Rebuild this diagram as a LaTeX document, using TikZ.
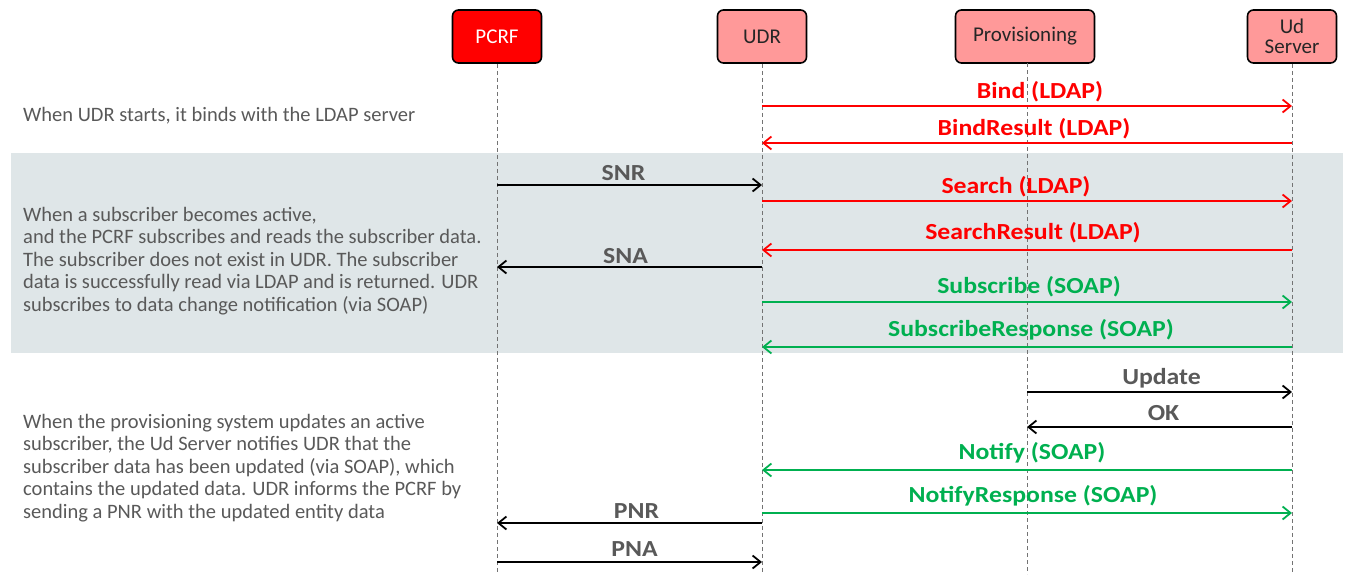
\documentclass[tikz,border=0pt]{standalone}
\usepackage{fontspec}
\setmainfont{Carlito}
\newfontfamily\msgfont[FakeStretch=1.12]{Carlito}
\usetikzlibrary{arrows.meta}
\definecolor{txtgray}{HTML}{595959}
\definecolor{boxpink}{HTML}{FF9999}
\definecolor{msgred}{HTML}{FF0000}
\definecolor{msggreen}{HTML}{00B050}
\definecolor{bandfill}{HTML}{DFE6E8}
\tikzset{
  actor/.style={draw=black, line width=1.6pt, rounded corners=6pt, fill=boxpink,
    minimum height=53pt, minimum width=89pt, align=center, inner sep=2pt,
    font=\fontsize{21}{20}\selectfont, text=black!85},
  lifeline/.style={draw=black!55, line width=0.8pt, dash pattern=on 4pt off 3pt},
  msg/.style={line width=1.8pt, -{Straight Barb[length=8pt,width=13pt]}},
  blackmsg/.style={msg, draw=black},
  redmsg/.style={msg, draw=msgred},
  greenmsg/.style={msg, draw=msggreen},
  lbl/.style={font=\msgfont\bfseries\fontsize{23}{26}\selectfont, inner sep=0pt},
  desc/.style={font=\fontsize{20.5}{22.5}\selectfont, text=txtgray, align=left,
    inner sep=0pt, anchor=west},
}
% message from lifeline #2 to lifeline #3 at height #4, label raised by #5, shifted by #6
\newcommand\seqmsg[8]{%
  \draw[#1] (#2 |- 0,#4) -- (#3 |- 0,#4)
    node[lbl, midway, yshift=#5pt, xshift=#6pt, text=#7] {#8};}
\begin{document}
\begin{tikzpicture}[x=1pt,y=-1pt]
\useasboundingbox (0,0) rectangle (1348,574);
% shaded section behind the subscription phase
\fill[bandfill] (11,153) rectangle (1343,353);

% participants
\node[actor, fill=msgred, text=white] (pcrf) at (497,36.5) {PCRF};
\node[actor] (udr) at (762,36.5) {UDR};
\node[actor, minimum width=139pt] (prov) at (1025,36.5) {Provisioning};
\node[actor] (uds) at (1292,36.5) {Ud\\Server};

% lifelines
\coordinate (pcrfend) at (497,574);
\coordinate (udrend) at (762,574);
\coordinate (provtop) at (1027,63);
\coordinate (provend) at (1027,574);
\coordinate (udsend) at (1292,574);
\draw[lifeline] (pcrf.south) -- (pcrfend);
\draw[lifeline] (udr.south) -- (udrend);
\draw[lifeline] (provtop) -- (provend);
\draw[lifeline] (uds.south) -- (udsend);

% phase descriptions
\node[desc] (d1) at (23,115.5) {When UDR starts, it binds with the LDAP server};
\node[desc] (d2) at (23,261) {When a subscriber becomes active,\\
and the PCRF subscribes and reads the subscriber data.\\
The subscriber does not exist in UDR. The subscriber\\
data is successfully read via LDAP and is returned. UDR\\
subscribes to data change notification  (via SOAP)};
\node[desc] (d3) at (23,468) {When the provisioning system updates an active\\
subscriber, the Ud Server notifies UDR that the\\
subscriber data has been updated (via SOAP), which\\
contains the updated data. UDR informs the PCRF by\\
sending a PNR with the updated entity data};

% bind
\seqmsg{redmsg}{udr}{uds}{106}{14.5}{13}{msgred}{Bind (LDAP)}
\seqmsg{redmsg}{uds}{udr}{143}{14.5}{7}{msgred}{BindResult (LDAP)}

% subscription
\seqmsg{blackmsg}{pcrf}{udr}{185}{12}{-6}{txtgray}{SNR}
\seqmsg{redmsg}{udr}{uds}{201}{14}{-11}{msgred}{Search (LDAP)}
\seqmsg{redmsg}{uds}{udr}{250}{17}{6}{msgred}{SearchResult (LDAP)}
\seqmsg{blackmsg}{udr}{pcrf}{267}{11}{-4}{txtgray}{SNA}
\seqmsg{greenmsg}{udr}{uds}{302}{15}{2}{msggreen}{Subscribe (SOAP)}
\seqmsg{greenmsg}{uds}{udr}{347}{17}{4}{msggreen}{SubscribeResponse (SOAP)}

% update and notification
\seqmsg{blackmsg}{provend}{uds}{392}{14}{2}{txtgray}{Update}
\seqmsg{blackmsg}{uds}{provend}{427}{14}{4}{txtgray}{OK}
\seqmsg{greenmsg}{uds}{udr}{470}{17}{5}{msggreen}{Notify (SOAP)}
\seqmsg{greenmsg}{udr}{uds}{513}{17}{6}{msggreen}{NotifyResponse (SOAP)}
\seqmsg{blackmsg}{udr}{pcrf}{523}{12}{7}{txtgray}{PNR}
\seqmsg{blackmsg}{pcrf}{udr}{562}{13}{5}{txtgray}{PNA}
\end{tikzpicture}
\end{document}
